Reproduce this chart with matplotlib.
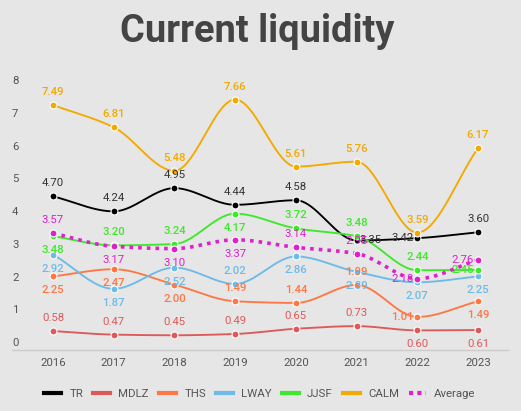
import numpy as np
import matplotlib
matplotlib.use('Agg')
import matplotlib.pyplot as plt
import matplotlib.transforms as mtransforms
from matplotlib.lines import Line2D

plt.rcParams['font.family'] = ['Roboto', 'DejaVu Sans']

# data
years = ['2016', '2017', '2018', '2019', '2020', '2021', '2022', '2023']
tr = [4.70, 4.24, 4.95, 4.44, 4.58, 3.35, 3.42, 3.60]
mdlz = [0.58, 0.47, 0.45, 0.49, 0.65, 0.73, 0.60, 0.61]
ths = [2.25, 2.47, 2.00, 1.49, 1.44, 1.99, 1.01, 1.49]
lway = [2.92, 1.87, 2.52, 2.02, 2.86, 2.39, 2.07, 2.25]
jjsf = [3.48, 3.20, 3.24, 4.17, 3.72, 3.48, 2.44, 2.45]
calm = [7.49, 6.81, 5.48, 7.66, 5.61, 5.76, 3.59, 6.17]
average = [3.57, 3.17, 3.10, 3.37, 3.14, 2.95, 2.18, 2.76]
y_ticks = [0, 1, 2, 3, 4, 5, 6, 7, 8]

# styles: (name, values, line color, label color, label weight, label positions)
series = [
    ('TR', tr, '#000000', '#333333', 'normal', 'aaaaarla'),
    ('MDLZ', mdlz, '#dd5a5a', '#dd5a5a', 'normal', 'aaaaaabb'),
    ('THS', ths, '#ff7744', '#ff7744', 'medium', 'bbbaaalb'),
    ('LWAY', lway, '#6cbbe8', '#6cbbe8', 'medium', 'bbbabbbb'),
    ('JJSF', jjsf, '#3ee82a', '#3ee82a', 'medium', 'baabaaal'),
    ('CALM', calm, '#f2aa00', '#f2aa00', 'medium', 'aaaaaaaa'),
    ('Average', average, '#dd22cc', '#dd22cc', 'normal', 'abbbaall'),
]


def smooth(y, n=40):
    # monotone cubic (pchip-like) through the points
    y = np.asarray(y, float)
    d = np.diff(y)
    m = np.zeros_like(y)
    m[0], m[-1] = d[0], d[-1]
    for k in range(1, len(y) - 1):
        if d[k - 1] * d[k] > 0:
            m[k] = 2 * d[k - 1] * d[k] / (d[k - 1] + d[k])
    xs, ys = [], []
    t = np.linspace(0, 1, n)
    for k in range(len(y) - 1):
        h00 = 2 * t**3 - 3 * t**2 + 1
        h10 = t**3 - 2 * t**2 + t
        h01 = -2 * t**3 + 3 * t**2
        h11 = t**3 - t**2
        xs.append(k + t)
        ys.append(h00 * y[k] + h10 * m[k] + h01 * y[k + 1] + h11 * m[k + 1])
    return np.concatenate(xs), np.concatenate(ys)


fig = plt.figure(figsize=(5.21, 4.11), dpi=100, facecolor='#e6e6e6')
ax = fig.add_axes([12 / 521, 61 / 411, 496 / 521, 261.6 / 411])
ax.set_facecolor('#e6e6e6')

x = np.arange(len(years))
for i, (name, vals, col, lcol, w, pos) in enumerate(series):
    sx, sy = smooth(vals)
    if name == 'Average':
        ax.plot(sx, sy, color=col, lw=2.6, ls=(0, (1, 1.4)), zorder=3 + i,
                solid_capstyle='butt', clip_on=False)
    else:
        ax.plot(sx, sy, color=col, lw=1.35, zorder=3 + i, clip_on=False)
    ax.plot(x, vals, 'o', color=col, ms=5, mec='white', mew=0.8,
            zorder=3 + i, clip_on=False)

for name, vals, col, lcol, w, pos in series:
    for xi, v, p in zip(x, vals, pos):
        if p == 'a':
            dx, dy, ha = 0, 13, 'center'
        elif p == 'b':
            dx, dy, ha = 0, -14, 'center'
        elif p == 'l':
            dx, dy, ha = -4, 0, 'right'
        else:
            dx, dy, ha = 3, 0, 'left'
        ax.annotate(f'{v:.2f}', (xi, v), xytext=(dx * 0.72, dy * 0.72),
                    textcoords='offset points', ha=ha, va='center',
                    fontsize=8.2, color=lcol, fontweight=w,
                    zorder=20, annotation_clip=False)

ax.set_xlim(-0.675, 7.494)
ax.set_ylim(0, 8)
ax.set_xticks(x)
ax.set_xticklabels(years, fontsize=8.2, color='#555555')
ax.tick_params(axis='x', length=0, pad=6)
ax.set_yticks([])
for s in ['top', 'right', 'left']:
    ax.spines[s].set_visible(False)
ax.spines['bottom'].set_color('#cccccc')
ax.spines['bottom'].set_linewidth(1)

# y tick labels sit a bit above their values
ytrans = mtransforms.blended_transform_factory(ax.transAxes, ax.transData) + \
    mtransforms.ScaledTranslation(0, 7 / 100, fig.dpi_scale_trans)
for v in y_ticks:
    ax.text(0, v, str(v), transform=ytrans, ha='left', va='center',
            fontsize=8.2, color='#555555')

fig.text(0.494, 1 - 42 / 411, 'Current liquidity', ha='center', va='baseline',
         fontsize=27.4, fontweight='bold', color='#444444')

handles = []
for name, vals, col, lcol, w, pos in series:
    if name == 'Average':
        handles.append(Line2D([], [], color=col, lw=3, ls=(0, (1, 1))))
    else:
        handles.append(Line2D([], [], color=col, lw=3))
leg = fig.legend(handles, [s[0] for s in series], loc='center',
                 bbox_to_anchor=(260 / 521, 1 - 394 / 411), ncol=7,
                 frameon=False, fontsize=8.2, handlelength=1.5,
                 handletextpad=0.7, columnspacing=0.9)
for t in leg.get_texts():
    t.set_color('#555555')

fig.savefig('out.png', dpi=100, facecolor=fig.get_facecolor())
